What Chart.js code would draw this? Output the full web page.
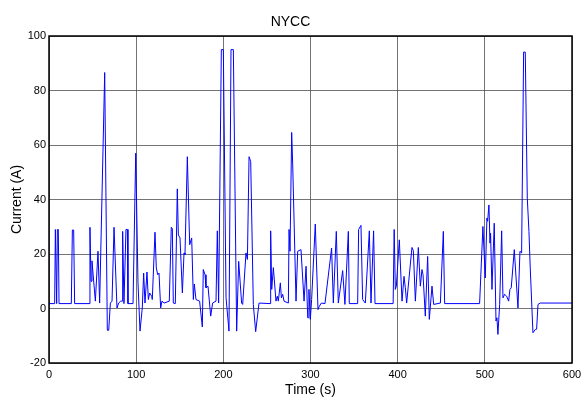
<!DOCTYPE html>
<html>
<head>
<meta charset="utf-8">
<script src="https://cdn.jsdelivr.net/npm/chart.js@4.4.0/dist/chart.umd.min.js"></script>
<style>
  body { margin: 0; background: #fff; }
</style>
</head>
<body>
<canvas id="myChart" width="581" height="399"></canvas>
<script>
// drive cycle current
var times = [
    0, 6.5, 7.3, 8.8, 9.6, 10.7, 11.5, 25.6, 26.8, 28.3, 29.4,
    45.9, 47.0, 48.2, 49.3, 53.2, 56.2, 58.1, 63.9, 66.9, 68.5, 70.4, 72.3,
    74.6, 78.0, 79.9, 82.2, 84.1, 84.5, 86.0, 88.3, 89.9, 90.6, 96.4, 99.5,
    102.1, 104.4, 107.0, 108.6, 110.1, 112.4, 114.0, 115.5, 117.8, 118.5,
    121.6, 123.1, 124.7, 126.2, 128.1, 129.6, 132.0, 138.0, 140.3, 141.5,
    142.6, 144.9, 147.2, 148.4, 150.3, 153.0, 154.9, 156.0, 158.7, 161.4,
    163.7, 165.6, 166.7, 168.6, 172.8, 175.9, 177.0, 179.0, 180.1, 182.4,
    185.5, 187.7, 191.6, 193.1, 194.6, 197.7, 200.0, 203.1, 206.5, 208.8,
    211.5, 215.3, 217.6, 221.0, 222.2, 226.0, 227.6, 229.5, 231.4, 234.4,
    237.1, 240.9, 253.6, 254.3, 255.5, 257.4, 260.4, 261.9, 263.1, 265.4,
    266.6, 268.1, 269.6, 274.6, 275.4, 276.5, 278.4, 279.6, 283.4, 285.3,
    289.1, 292.6, 294.9, 296.8, 297.5, 298.2, 299.8, 301.3, 305.5, 308.6,
    310.1, 312.4, 316.6, 324.2, 326.2, 329.6, 331.9, 336.9, 339.5, 343.4,
    344.5, 354.1, 355.2, 357.9, 359.8, 362.9, 367.5, 369.4, 372.4, 374.0,
    394.8, 396.0, 397.3, 398.5, 401.9, 405.0, 407.3, 408.8, 410.3, 416.4,
    418.0, 420.3, 423.7, 426.0, 427.9, 429.1, 431.7, 434.4, 436.3, 439.4,
    441.3, 449.0, 452.4, 453.9, 494.0, 497.8, 500.5, 502.4, 503.2, 504.7,
    505.9, 506.6, 508.2, 510.8, 512.8, 513.9, 515.0, 517.0, 519.3, 520.8,
    522.7, 525.0, 527.3, 528.8, 530.3, 533.8, 538.0, 540.3, 542.2, 544.5,
    546.4, 548.7, 550.6, 552.1, 555.2, 557.9, 559.4, 561.0, 563.6, 600
];
var currents = [
    1.8, 1.8, 29, 1.8, 29, 29, 1.8, 1.8, 28.8, 28.8, 1.8,
    1.8, 29.8, 10, 17.5, 2.7, 21, 2, 86.6, -8, -8, 2, 2.7,
    29.8, 0.2, 2, 2.7, 2.7, 28.3, 1.8, 29, 29, 1.8, 1.8, 57,
    9.4, -8.3, 0.2, 13, 2, 13.4, 3.3, 5.7, 4.5, 3.3,
    28, 14.9, 12.4, 13, 0.2, 2.7, 2, 2.7, 29.8, 29.3,
    2, 1.8, 43.9, 27, 25.9, 5.7, 20.4, 19.8, 55.7, 23.4,
    25.9, 3.3, 9, 3.3, 2.7, -6.8, 14.3, 12.4, 7.6, 8.2,
    -2.8, 2, 2.7, 28.5, 2, 95, 95, 4, -8.3, 95,
    95, -8.3, 17.3, 2, 1.5, 20.4, 18, 55.7, 53.9, 1.5,
    -8.5, 2, 1.8, 28.5, 7, 15, 2.7, 4.5, 2.7, 9.4,
    3.9, 5.2, 2.7, 2, 29, 21, 64.6, 52.7, 2.7, 21,
    21.6, 2.7, 15.5, -3.4, -3.4, 7, -4, 3.3, 31, -0.4,
    0.8, 2, 1.8, 22.2, 2, 28.3, 2, 13.9, 1.5, 28.3,
    1.8, 1.8, 29, 30.5, 3.3, 2, 28.5, 2, 28.5, 1.8,
    1.8, 29, 7, 8.2, 25.2, 2.7, 11.8, 7.6, 2, 22.4,
    21.2, 2.7, 22.4, 8.2, 14.3, 12.4, -2.8, 19.1, -4, 8.2,
    1.5, 2, 28.3, 1.8, 1.8, 30.1, 11.2, 33.2, 32, 38,
    24, 27.6, 7, 31.3, -4.6, -3.4, -9.5, 1.5, 28.5, 3.9,
    5.2, 4.5, 2.7, 7, 7.6, 21.6, 0.2, 21, 20.4, 94.1,
    94.1, 40.5, 28.3, 14.9, -8.9, -7.7, -7.6, 1.5, 2, 2
];
var xTicks = [0, 100, 200, 300, 400, 500, 600];
var yTicks = [-20, 0, 20, 40, 60, 80, 100];

var points = times.map(function (t, i) {
    return { x: t, y: currents[i] };
});

var fontName = "'Liberation Sans', Arial, sans-serif";
var gridColor = 'rgba(70,70,70,0.75)';

// black box round the plot area, like matlab
const boxPlugin = {
    id: 'box',
    afterDraw(chart) {
        const a = chart.chartArea;
        const c = chart.ctx;
        c.save();
        c.strokeStyle = '#000';
        c.lineWidth = 1.5;
        c.strokeRect(a.left, a.top, a.right - a.left, a.bottom - a.top);
        c.restore();
    }
};

const ctx = document.getElementById('myChart').getContext('2d');
const myChart = new Chart(ctx, {
    type: 'scatter',
    data: {
        datasets: [{
            data: points,
            showLine: true,
            borderColor: '#0000ff',
            borderWidth: 1,
            pointRadius: 0,
            tension: 0,
            fill: false
        }]
    },
    options: {
        responsive: false,
        animation: false,
        layout: { padding: { left: 0, right: 0, top: 0, bottom: 0 } },
        plugins: {
            legend: { display: false },
            tooltip: { enabled: false },
            title: {
                display: true,
                text: 'NYCC',
                color: '#000',
                font: { family: fontName, size: 14, weight: 'normal' },
                padding: { top: 13.5, bottom: 5.7 }
            }
        },
        scales: {
            x: {
                type: 'linear',
                min: xTicks[0],
                max: xTicks[xTicks.length - 1],
                afterBuildTicks: function (scale) {
                    scale.ticks = xTicks.map(v => ({ value: v }));
                },
                afterFit: function (scale) {
                    scale.height = 36;
                    scale.paddingLeft = 0;
                    scale.paddingRight = 9;
                },
                ticks: { color: '#000', font: { family: fontName, size: 11 }, padding: 5, maxRotation: 0 },
                grid: { color: gridColor, lineWidth: 1, drawTicks: false },
                border: { display: false },
                title: {
                    display: true,
                    text: 'Time (s)',
                    color: '#000',
                    font: { family: fontName, size: 14 },
                    padding: { top: 0, bottom: 0 }
                }
            },
            y: {
                min: yTicks[0],
                max: yTicks[yTicks.length - 1],
                afterBuildTicks: function (scale) {
                    scale.ticks = yTicks.map(v => ({ value: v }));
                },
                afterFit: function (scale) { scale.width = 49; },
                ticks: { color: '#000', font: { family: fontName, size: 11 }, padding: 3 },
                grid: { color: gridColor, lineWidth: 1, drawTicks: false },
                border: { display: false },
                title: {
                    display: true,
                    text: 'Current (A)',
                    color: '#000',
                    font: { family: fontName, size: 14 },
                    padding: { top: 9, bottom: 0 }
                }
            }
        }
    },
    plugins: [boxPlugin]
});
</script>
</body>
</html>
